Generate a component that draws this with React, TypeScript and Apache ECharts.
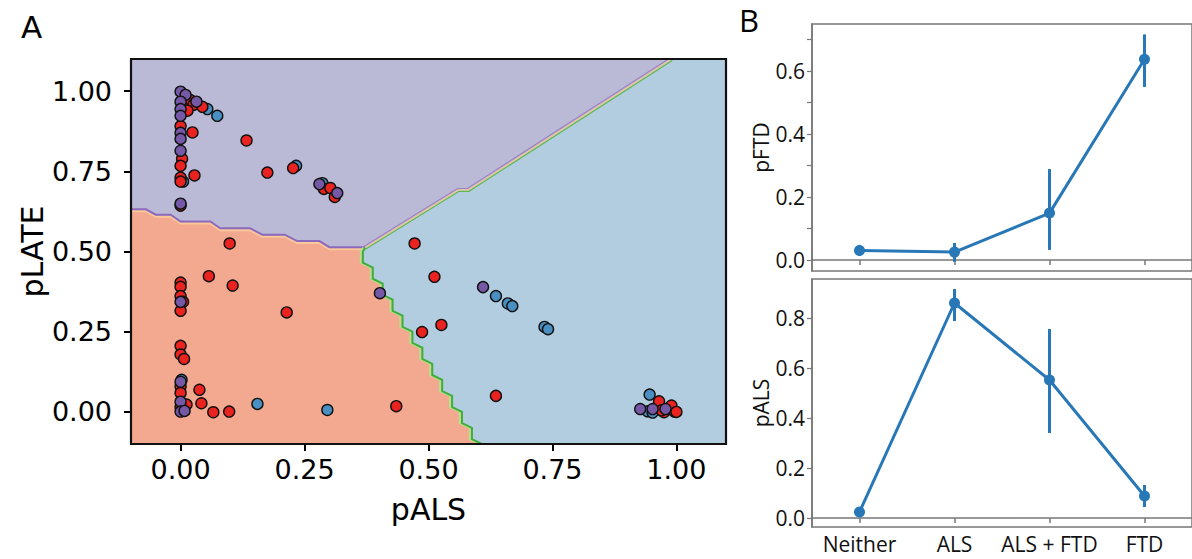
import React, { useEffect, useRef } from 'react';
import * as echarts from 'echarts';

// ---------- Panel A data ----------
const axisTicksA = [0, 0.25, 0.5, 0.75, 1.0];

const redPoints = [
  [0.0, 0.891], [0.003, 0.789], [0.0, 0.767], [0.0, 0.730], [0.0, 0.718], [0.0, 0.643],
  [0.020, 0.972], [0.026, 0.957], [0.014, 0.939], [0.044, 0.951],
  [0.024, 0.871], [0.028, 0.737], [0.133, 0.846], [0.175, 0.746], [0.227, 0.760],
  [0.289, 0.695], [0.302, 0.698], [0.311, 0.670],
  [0.099, 0.525], [0.472, 0.525],
  [0.057, 0.423], [0.105, 0.394],
  [0.0, 0.403], [0.0, 0.390], [0.0, 0.361], [0.005, 0.343], [0.0, 0.315],
  [0.214, 0.310], [0.487, 0.249], [0.526, 0.271], [0.512, 0.421],
  [0.0, 0.206], [0.0, 0.179], [0.007, 0.165],
  [0.0, 0.080], [0.0, 0.059], [0.012, 0.023], [0.0, 0.015],
  [0.038, 0.069], [0.042, 0.027], [0.066, -0.001], [0.098, 0.001], [0.435, 0.018], [0.636, 0.050],
  [0.965, 0.033], [0.975, -0.001], [0.985, 0.011], [0.996, 0.001], [0.990, 0.020], [1.0, 0.0], [0.970, 0.005],
];

const purplePoints = [
  [0.0, 0.998], [0.010, 0.988], [0.0, 0.967], [0.032, 0.967], [0.0, 0.944], [0.0, 0.923],
  [0.0, 0.870], [0.0, 0.851], [0.0, 0.814], [0.0, 0.649],
  [0.280, 0.710], [0.316, 0.682],
  [0.0, 0.343], [0.402, 0.370], [0.610, 0.389],
  [0.0, 0.094], [0.0, 0.032], [0.0, 0.001], [0.008, 0.003],
  [0.927, 0.009], [0.952, 0.009], [0.978, 0.009],
];

const bluePoints = [
  [0.054, 0.944], [0.074, 0.923], [0.005, 0.718], [0.233, 0.767], [0.286, 0.713],
  [0.636, 0.361], [0.660, 0.338], [0.669, 0.330], [0.734, 0.265], [0.741, 0.258],
  [0.155, 0.025], [0.296, 0.006], [0.002, 0.100],
  [0.946, 0.054], [0.942, 0.002], [0.952, -0.002],
];

// decision boundaries (data coordinates)
const lateFtdBoundary = [
  [-0.1, 0.630], [-0.07, 0.630], [-0.05, 0.613], [-0.02, 0.613], [0.0, 0.592], [0.06, 0.592],
  [0.08, 0.571], [0.14, 0.571], [0.165, 0.551], [0.21, 0.551], [0.235, 0.531], [0.28, 0.531],
  [0.30, 0.512], [0.372, 0.512],
];
const lateAlsBoundary = [[0.372, 0.512], [0.56, 0.692], [0.58, 0.692], [0.99, 1.1]];
const ftdAlsBoundary = [
  [0.372, 0.512], [0.367, 0.500], [0.367, 0.465], [0.387, 0.450], [0.387, 0.415], [0.407, 0.400],
  [0.407, 0.365], [0.427, 0.350], [0.427, 0.315], [0.447, 0.300], [0.447, 0.265], [0.467, 0.250],
  [0.467, 0.215], [0.487, 0.200], [0.487, 0.165], [0.507, 0.150], [0.507, 0.115], [0.527, 0.100],
  [0.527, 0.065], [0.547, 0.050], [0.547, 0.015], [0.567, 0.000], [0.567, -0.035], [0.587, -0.050],
  [0.587, -0.085], [0.607, -0.100],
];

// ---------- Panel B data ----------
const categories = ['Neither', 'ALS', 'ALS + FTD', 'FTD'];
const pFTD = [0.030, 0.025, 0.149, 0.638];
const pFTDLow = [0.013, -0.006, 0.032, 0.550];
const pFTDHigh = [0.048, 0.054, 0.289, 0.717];
const pALS = [0.024, 0.860, 0.552, 0.088];
const pALSLow = [0.018, 0.788, 0.340, 0.044];
const pALSHigh = [0.030, 0.916, 0.756, 0.132];
const ftdTicks = [0, 0.1, 0.2, 0.3, 0.4, 0.5, 0.6, 0.7];
const ftdLabels = [0, 0.2, 0.4, 0.6];
const alsTicks = [0, 0.2, 0.4, 0.6, 0.8];

const FONT_A = 'DejaVu Sans';
const FONT_B = 'Open Sans';
const FS_B = 21;
const LINE_BLUE = '#2878b8';

function regionSeries(poly: number[][], color: string) {
  return {
    type: 'custom',
    coordinateSystem: 'cartesian2d',
    xAxisIndex: 0,
    yAxisIndex: 0,
    z: 1,
    silent: true,
    clip: true,
    data: [poly[0]],
    encode: { x: 0, y: 1 },
    renderItem: (_p: any, api: any) => {
      const pts = poly.map((p) => api.coord(p));
      return { type: 'polygon', shape: { points: pts }, style: { fill: color, stroke: 'none' } };
    },
  };
}

function boundarySeries(line: number[][], strokes: { color: string; width: number; dx: number; dy: number }[]) {
  return {
    type: 'custom',
    coordinateSystem: 'cartesian2d',
    xAxisIndex: 0,
    yAxisIndex: 0,
    z: 3,
    silent: true,
    clip: true,
    data: [line[0]],
    encode: { x: 0, y: 1 },
    renderItem: (_p: any, api: any) => {
      const pts = line.map((p) => api.coord(p));
      return {
        type: 'group',
        children: strokes.map((s) => ({
          type: 'polyline',
          shape: { points: pts.map((q: number[]) => [q[0] + s.dx, q[1] + s.dy]) },
          style: { stroke: s.color, lineWidth: s.width, fill: 'none' },
        })),
      };
    },
  };
}

function errorSeries(low: number[], high: number[], xi: number, yi: number) {
  return {
    type: 'custom',
    coordinateSystem: 'cartesian2d',
    xAxisIndex: xi,
    yAxisIndex: yi,
    z: 4,
    silent: true,
    data: low.map((l, i) => [i, l, high[i]]),
    encode: { x: 0, y: [1, 2] },
    renderItem: (_p: any, api: any) => {
      const x = api.value(0);
      const a = api.coord([x, api.value(1)]);
      const b = api.coord([x, api.value(2)]);
      return {
        type: 'line',
        shape: { x1: a[0], y1: a[1], x2: b[0], y2: b[1] },
        style: { stroke: LINE_BLUE, lineWidth: 3 },
      };
    },
  };
}

function scatter(data: number[][], color: string) {
  return {
    type: 'scatter',
    xAxisIndex: 0,
    yAxisIndex: 0,
    z: 5,
    symbolSize: 11,
    data,
    itemStyle: { color, borderColor: '#111', borderWidth: 1.4, opacity: 1 },
  };
}

const purpleRegion = [[-0.1, 1.1], ...lateAlsBoundary.slice().reverse(), ...lateFtdBoundary.slice().reverse()];
const blueRegion = [[1.1, 1.1], [1.1, -0.1], ...ftdAlsBoundary.slice().reverse(), ...lateAlsBoundary];

export default function App() {
  const ref = useRef<HTMLDivElement>(null);
  useEffect(() => {
    document.body.style.margin = '0';
    if (!ref.current) return;
    const chart = echarts.init(ref.current, null, { renderer: 'svg' });

    const axisA = (isX: boolean) => ({
      type: 'value',
      gridIndex: 0,
      min: -0.1,
      max: 1.1,
      axisLine: { show: true, onZero: false, lineStyle: { color: '#000', width: 2 } },
      axisTick: { show: true, length: 7, customValues: axisTicksA, lineStyle: { color: '#000', width: 2 } },
      axisLabel: {
        customValues: axisTicksA,
        formatter: (v: number) => v.toFixed(2),
        fontFamily: FONT_A,
        fontSize: 27,
        color: '#000',
        margin: isX ? 12 : 19,
      },
      splitLine: { show: false },
      name: isX ? 'pALS' : 'pLATE',
      nameLocation: 'middle',
      nameGap: isX ? 50 : 84,
      nameTextStyle: { fontFamily: FONT_A, fontSize: 30, color: '#000' },
    });

    const yAxisB = (grid: number, min: number, max: number, ticks: number[], labels: number[], name: string) => ({
      type: 'value',
      gridIndex: grid,
      min,
      max,
      axisLine: { show: true, lineStyle: { color: '#777', width: 1.5 } },
      axisTick: { show: true, length: 5, customValues: ticks, lineStyle: { color: '#777', width: 1.2 } },
      axisLabel: { customValues: labels, formatter: (v: number) => v.toFixed(1), fontFamily: FONT_B, fontSize: FS_B, color: '#111', margin: 7 },
      splitLine: { show: false },
      name,
      nameLocation: 'middle',
      nameGap: 39,
      nameTextStyle: { fontFamily: FONT_B, fontSize: FS_B, color: '#111' },
    });

    const option: any = {
      animation: false,
      grid: [
        { left: 131, top: 59, width: 595, height: 385, show: false },
        { left: 812, top: 24, width: 380, height: 247, show: true, borderColor: '#777', borderWidth: 1.5, backgroundColor: 'transparent' },
        { left: 812, top: 279, width: 380, height: 248, show: true, borderColor: '#777', borderWidth: 1.5, backgroundColor: 'transparent' },
      ],
      xAxis: [
        axisA(true),
        {
          type: 'category',
          gridIndex: 1,
          data: categories,
          axisLine: { show: true, lineStyle: { color: '#777', width: 1.5 } },
          axisTick: { show: true, alignWithLabel: true, length: 5, lineStyle: { color: '#777', width: 1.5 } },
          axisLabel: { show: false },
        },
        {
          type: 'category',
          gridIndex: 2,
          data: categories,
          axisLine: { show: true, lineStyle: { color: '#777', width: 1.5 } },
          axisTick: { show: true, alignWithLabel: true, length: 5, lineStyle: { color: '#777', width: 1.5 } },
          axisLabel: { fontFamily: FONT_B, fontSize: FS_B, color: '#111', margin: 6, interval: 0 },
        },
      ],
      yAxis: [
        axisA(false),
        yAxisB(1, -0.035, 0.75, ftdTicks, ftdLabels, 'pFTD'),
        yAxisB(2, -0.036, 0.956, alsTicks, alsTicks, 'pALS'),
      ],
      graphic: [
        { type: 'text', left: 21, top: 11, style: { text: 'A', font: '31px "DejaVu Sans"', fill: '#000' } },
        { type: 'text', left: 739, top: 4, style: { text: 'B', font: '31px "Open Sans"', fill: '#000' } },
      ],
      series: [
        regionSeries([[-0.1, -0.1], [1.1, -0.1], [1.1, 1.1], [-0.1, 1.1]], '#f2a98f'),
        regionSeries(purpleRegion, '#babad6'),
        regionSeries(blueRegion, '#b3cde0'),
        boundarySeries(lateFtdBoundary, [
          { color: '#f9c99a', width: 2, dx: 0, dy: 1.5 },
          { color: '#8c6bbf', width: 2, dx: 0, dy: -0.5 },
        ]),
        boundarySeries(lateAlsBoundary, [
          { color: '#5fb84f', width: 1.2, dx: 0.8, dy: 1.4 },
          { color: '#f0c48d', width: 1.2, dx: 0, dy: 0 },
          { color: '#9a82c8', width: 1.2, dx: -0.8, dy: -1.4 },
        ]),
        boundarySeries(ftdAlsBoundary, [
          { color: '#b6e08c', width: 2, dx: -1.8, dy: 0 },
          { color: '#3fae3a', width: 2, dx: 0.3, dy: 0 },
        ]),
        scatter(bluePoints, '#4a8fc1'),
        scatter(redPoints, '#ea2320'),
        scatter(purplePoints, '#7558a6'),
        {
          type: 'custom',
          coordinateSystem: 'cartesian2d',
          xAxisIndex: 0,
          yAxisIndex: 0,
          z: 10,
          silent: true,
          clip: false,
          data: [[-0.1, 1.1]],
          encode: { x: 0, y: 1 },
          renderItem: (_p: any, api: any) => {
            const a = api.coord([-0.1, 1.1]);
            const b = api.coord([1.1, -0.1]);
            return {
              type: 'rect',
              shape: { x: a[0], y: a[1], width: b[0] - a[0], height: b[1] - a[1] },
              style: { fill: 'none', stroke: '#111', lineWidth: 2.2 },
            };
          },
        },
        errorSeries(pFTDLow, pFTDHigh, 1, 1),
        {
          type: 'line',
          xAxisIndex: 1,
          yAxisIndex: 1,
          data: pFTD,
          symbol: 'circle',
          symbolSize: 11,
          z: 5,
          lineStyle: { color: LINE_BLUE, width: 3 },
          itemStyle: { color: LINE_BLUE },
        },
        errorSeries(pALSLow, pALSHigh, 2, 2),
        {
          type: 'line',
          xAxisIndex: 2,
          yAxisIndex: 2,
          data: pALS,
          symbol: 'circle',
          symbolSize: 11,
          z: 5,
          lineStyle: { color: LINE_BLUE, width: 3 },
          itemStyle: { color: LINE_BLUE },
        },
      ],
    };

    chart.setOption(option);
    return () => chart.dispose();
  }, []);

  return <div ref={ref} style={{ width: 1192, height: 559 }} />;
}
